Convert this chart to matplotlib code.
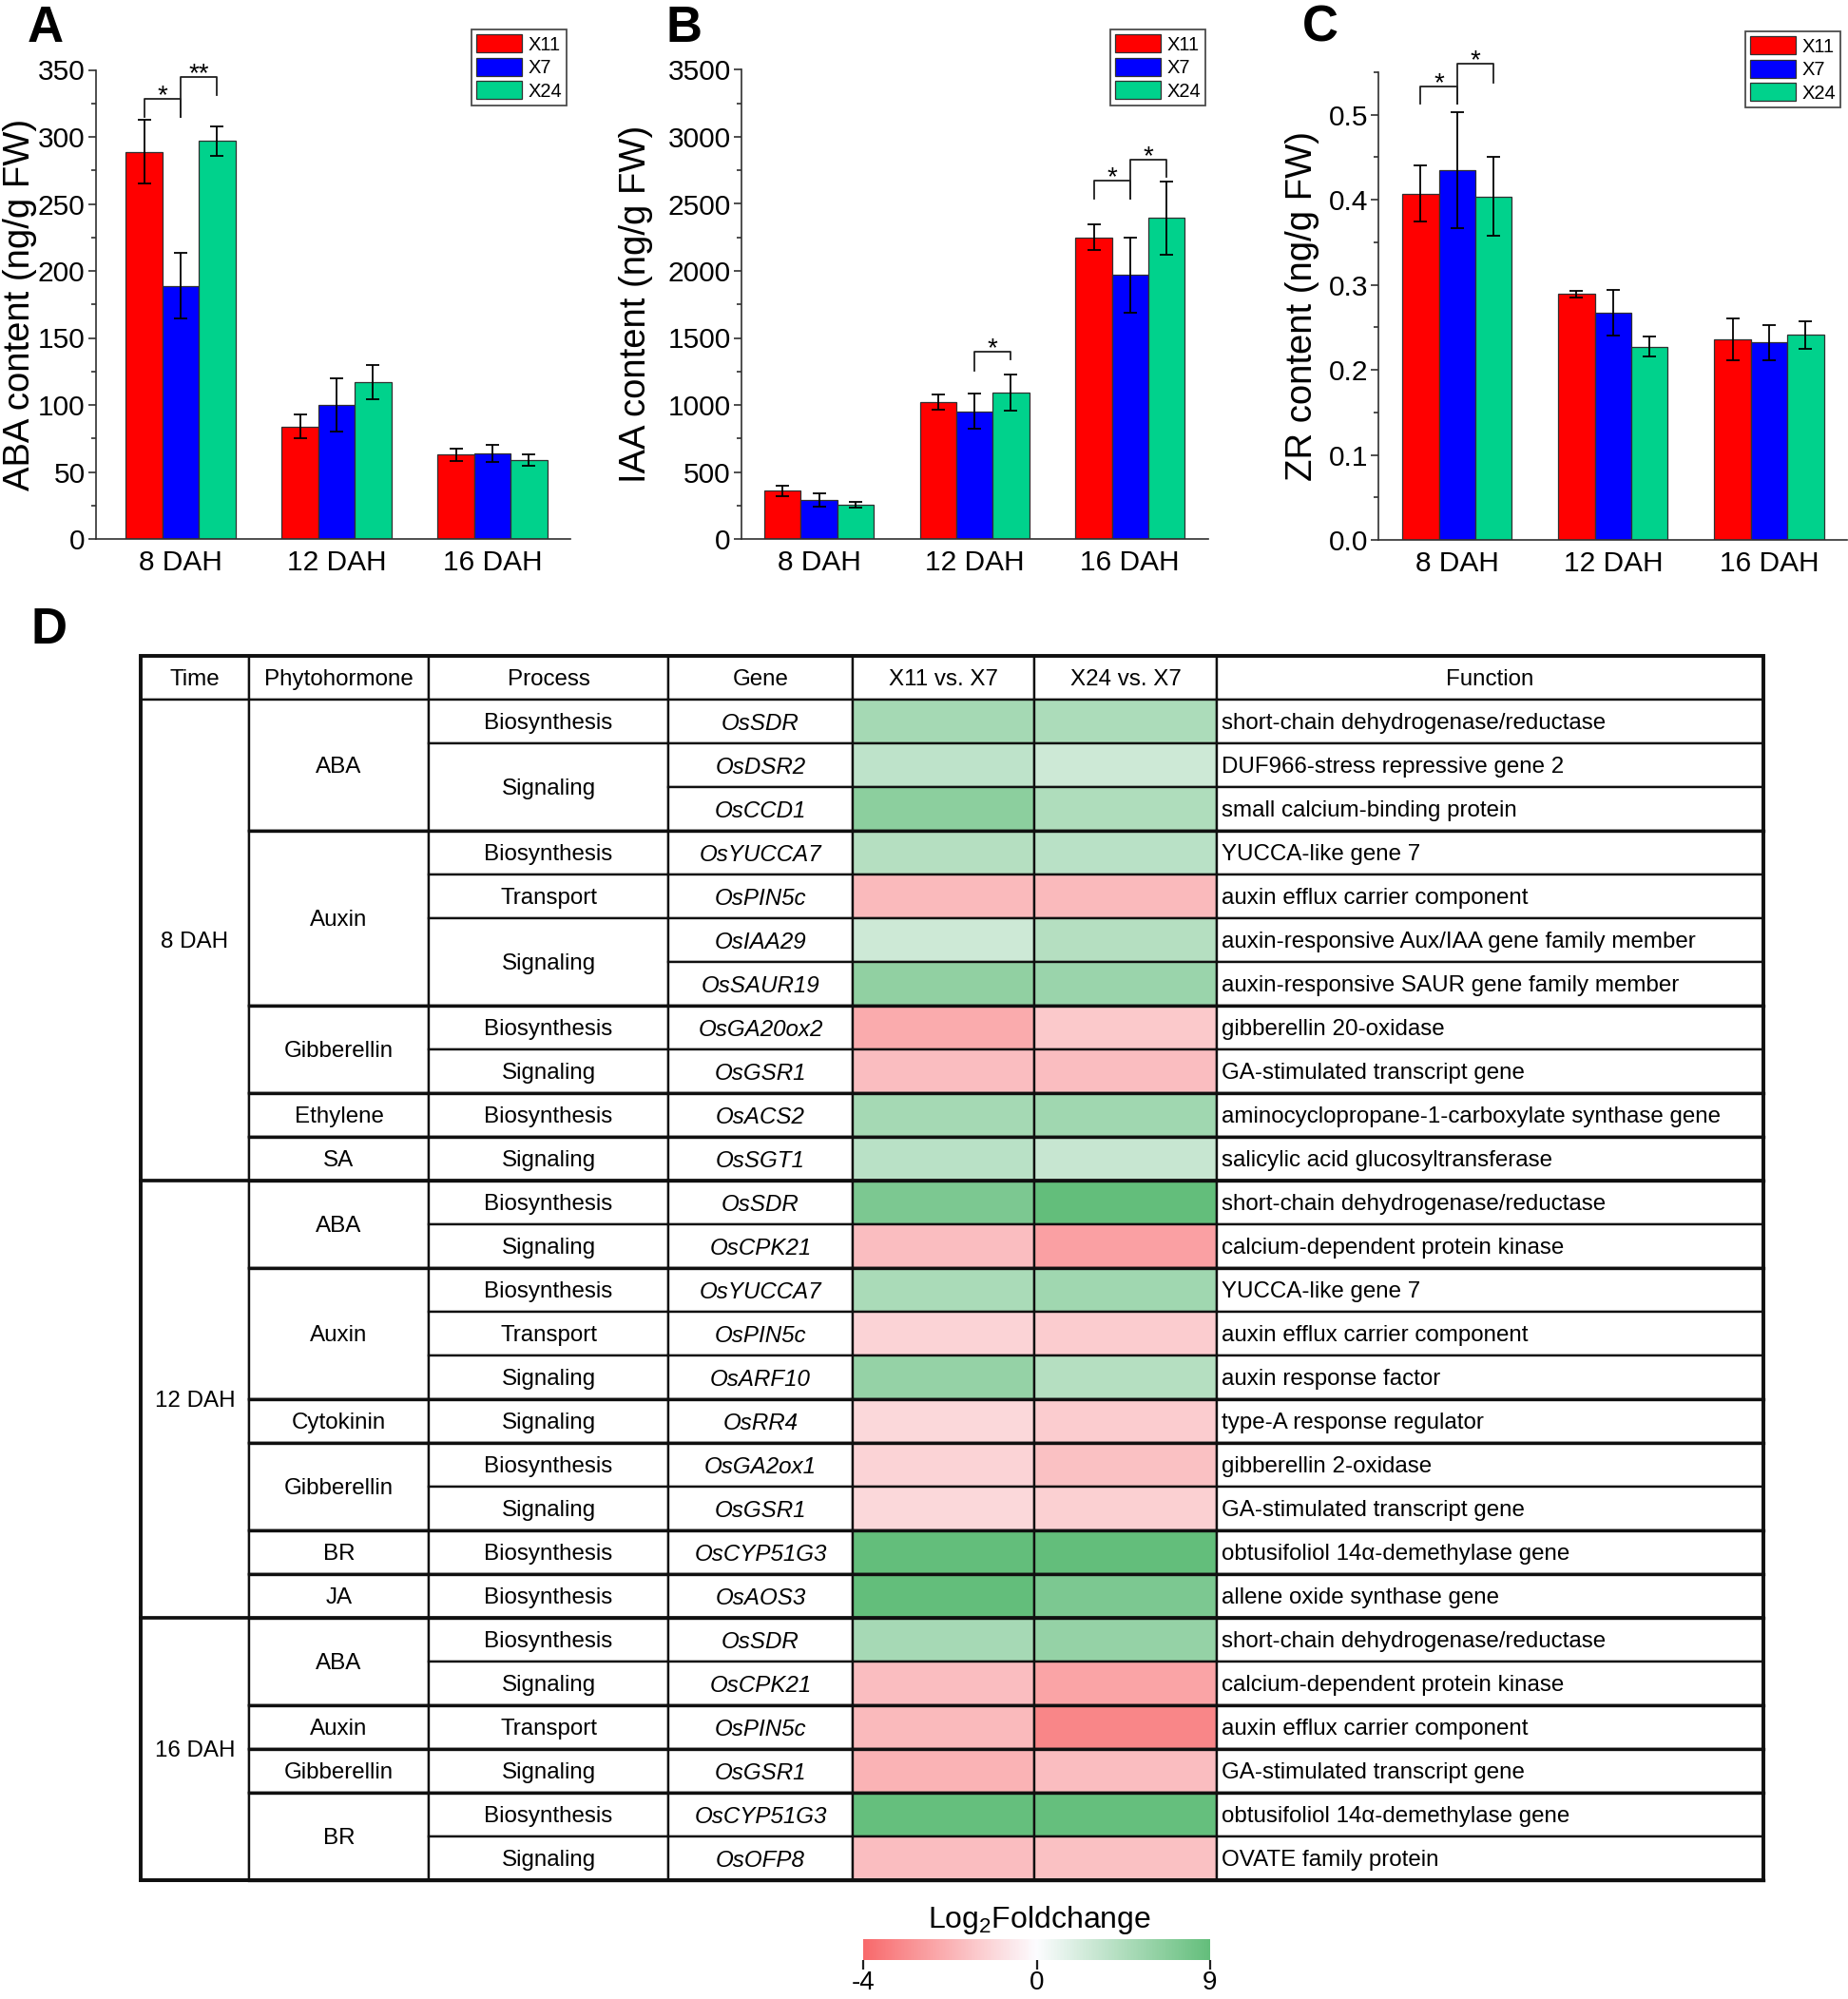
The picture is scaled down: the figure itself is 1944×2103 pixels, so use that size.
import numpy as np
import matplotlib
matplotlib.use('Agg')
import matplotlib.pyplot as plt
from matplotlib.patches import Rectangle
from matplotlib.colors import LinearSegmentedColormap, TwoSlopeNorm
from matplotlib.cm import ScalarMappable
from matplotlib.ticker import MultipleLocator, FormatStrFormatter

plt.rcParams['font.family'] = ['Liberation Sans', 'DejaVu Sans']
plt.rcParams['mathtext.fontset'] = 'custom'
plt.rcParams['mathtext.rm'] = 'Liberation Sans'
plt.rcParams['mathtext.it'] = 'Liberation Sans:italic'
plt.rcParams['axes.unicode_minus'] = False

# ---------------- data: bar panels ----------------
stages = ['8 DAH', '12 DAH', '16 DAH']
lines_names = ['X11', 'X7', 'X24']
bar_colors = ['#FF0000', '#0000FF', '#00D28C']

aba_x11 = [289, 84, 63]
aba_x7 = [189, 100, 64]
aba_x24 = [297, 117, 59]
aba_x11_err = [24, 9, 4.7]
aba_x7_err = [24.5, 19.7, 6.4]
aba_x24_err = [11, 13, 4.4]

iaa_x11 = [359, 1023, 2251]
iaa_x7 = [291, 952, 1969]
iaa_x24 = [254, 1094, 2394]
iaa_x11_err = [37, 58, 93]
iaa_x7_err = [48, 131, 279]
iaa_x24_err = [20, 134, 274]

zr_x11 = [0.407, 0.289, 0.236]
zr_x7 = [0.435, 0.267, 0.232]
zr_x24 = [0.404, 0.227, 0.241]
zr_x11_err = [0.033, 0.0035, 0.0245]
zr_x7_err = [0.068, 0.027, 0.021]
zr_x24_err = [0.046, 0.0117, 0.0162]

# significance brackets: (group, series_a, series_b, top, leg_a, leg_b, text)
aba_sig = [(0, 0, 1, 328.6, 315, 315, '*'), (0, 1, 2, 344.8, 315, 331.4, '**')]
iaa_sig = [(1, 1, 2, 1394, 1257, 1342, '*'), (2, 0, 1, 2676, 2536, 2536, '*'),
           (2, 1, 2, 2833, 2536, 2699, '*')]
zr_sig = [(0, 0, 1, 0.5337, 0.5126, 0.5126, '*'), (0, 1, 2, 0.5597, 0.5126, 0.538, '*')]

# ---------------- data: table ----------------
time_col = ['8 DAH'] * 11 + ['12 DAH'] * 10 + ['16 DAH'] * 6
hormone_col = ['ABA', 'ABA', 'ABA', 'Auxin', 'Auxin', 'Auxin', 'Auxin', 'Gibberellin', 'Gibberellin',
               'Ethylene', 'SA',
               'ABA', 'ABA', 'Auxin', 'Auxin', 'Auxin', 'Cytokinin', 'Gibberellin', 'Gibberellin', 'BR', 'JA',
               'ABA', 'ABA', 'Auxin', 'Gibberellin', 'BR', 'BR']
process_col = ['Biosynthesis', 'Signaling', 'Signaling', 'Biosynthesis', 'Transport', 'Signaling', 'Signaling',
               'Biosynthesis', 'Signaling', 'Biosynthesis', 'Signaling',
               'Biosynthesis', 'Signaling', 'Biosynthesis', 'Transport', 'Signaling', 'Signaling',
               'Biosynthesis', 'Signaling', 'Biosynthesis', 'Biosynthesis',
               'Biosynthesis', 'Signaling', 'Transport', 'Signaling', 'Biosynthesis', 'Signaling']
gene_col = ['OsSDR', 'OsDSR2', 'OsCCD1', 'OsYUCCA7', 'OsPIN5c', 'OsIAA29', 'OsSAUR19', 'OsGA20ox2', 'OsGSR1',
            'OsACS2', 'OsSGT1',
            'OsSDR', 'OsCPK21', 'OsYUCCA7', 'OsPIN5c', 'OsARF10', 'OsRR4', 'OsGA2ox1', 'OsGSR1', 'OsCYP51G3',
            'OsAOS3',
            'OsSDR', 'OsCPK21', 'OsPIN5c', 'OsGSR1', 'OsCYP51G3', 'OsOFP8']
function_col = ['short-chain dehydrogenase/reductase', 'DUF966-stress repressive gene 2',
                'small calcium-binding protein', 'YUCCA-like gene 7', 'auxin efflux carrier component',
                'auxin-responsive Aux/IAA gene family member', 'auxin-responsive SAUR gene family member',
                'gibberellin 20-oxidase', 'GA-stimulated transcript gene',
                'aminocyclopropane-1-carboxylate synthase gene', 'salicylic acid glucosyltransferase',
                'short-chain dehydrogenase/reductase', 'calcium-dependent protein kinase', 'YUCCA-like gene 7',
                'auxin efflux carrier component', 'auxin response factor', 'type-A response regulator',
                'gibberellin 2-oxidase', 'GA-stimulated transcript gene', 'obtusifoliol 14\u03b1-demethylase gene',
                'allene oxide synthase gene',
                'short-chain dehydrogenase/reductase', 'calcium-dependent protein kinase',
                'auxin efflux carrier component', 'GA-stimulated transcript gene',
                'obtusifoliol 14\u03b1-demethylase gene', 'OVATE family protein']
fc_x11 = [5.1, 3.6, 6.6, 4.2, -1.8, 2.8, 6.3, -2.2, -1.7, 5.1, 3.9,
          7.5, -1.7, 4.8, -1.1, 6.0, -1.0, -1.1, -1.0, 9.0, 9.0,
          5.0, -1.7, -1.8, -2.0, 8.8, -1.7]
fc_x24 = [4.7, 2.8, 4.5, 3.9, -1.8, 4.2, 5.7, -1.4, -1.7, 5.4, 3.1,
          9.0, -2.5, 5.4, -1.3, 4.2, -1.3, -1.6, -1.2, 9.0, 7.5,
          6.0, -2.4, -3.2, -1.7, 8.8, -1.6]
header = ['Time', 'Phytohormone', 'Process', 'Gene', 'X11 vs. X7', 'X24 vs. X7', 'Function']
cbar_ticks = [-4, 0, 9]

# ---------------- figure ----------------
W, H = 1944, 2103
fig = plt.figure(figsize=(W / 100, H / 100), dpi=100)


def fx(px):
    return px / W


def fy(py):
    return 1 - py / H


AX_COL = '#303030'


def bar_panel(rect, means, errs, sig, xlim, ylim, major, minor, fmt, ylabel, ylab_x, leg_anchor):
    ax = fig.add_axes(rect)
    w = 0.234
    x = np.arange(len(stages))
    for s in range(3):
        ax.bar(x + (s - 1) * w, means[s], w, yerr=errs[s], color=bar_colors[s],
               edgecolor=AX_COL, linewidth=0.9, label=lines_names[s], zorder=2,
               error_kw=dict(ecolor='black', elinewidth=1.3, capsize=5, capthick=1.3, zorder=3))
    for g, sa, sb, top, la, lb, txt in sig:
        xa = g + (sa - 1) * w
        xb = g + (sb - 1) * w
        ax.plot([xa, xa, xb, xb], [la, top, top, lb], color='#202020', lw=1.3, clip_on=False, zorder=4)
        ax.annotate(txt, xy=((xa + xb) / 2, top), xytext=(0, 2), textcoords='offset points',
                    ha='center', va='center', fontsize=20, annotation_clip=False)
    ax.set_xlim(*xlim)
    ax.set_ylim(*ylim)
    ax.yaxis.set_major_locator(MultipleLocator(major))
    ax.yaxis.set_minor_locator(MultipleLocator(minor))
    ax.yaxis.set_major_formatter(FormatStrFormatter(fmt))
    ax.set_xticks(x)
    ax.set_xticklabels(stages)
    for sp in ['top', 'right']:
        ax.spines[sp].set_visible(False)
    for sp in ['left', 'bottom']:
        ax.spines[sp].set_color(AX_COL)
        ax.spines[sp].set_linewidth(1.2)
    ax.tick_params(axis='y', which='major', direction='out', length=6, width=1.2, color=AX_COL,
                   labelsize=21.5, pad=2)
    ax.tick_params(axis='y', which='minor', direction='out', length=3.5, width=1.2, color=AX_COL)
    ax.tick_params(axis='x', length=0, labelsize=21.5, pad=8)
    ax.set_ylabel(ylabel, fontsize=27.5)
    ax.yaxis.set_label_coords(ylab_x, 0.5)
    leg = ax.legend(loc='upper right', bbox_to_anchor=leg_anchor, bbox_transform=fig.transFigure,
                    fontsize=14.5, frameon=True, fancybox=False, edgecolor='#202020',
                    handlelength=2.4, handleheight=1.1, handletextpad=0.3, labelspacing=0.2,
                    borderpad=0.25, borderaxespad=0)
    leg.get_frame().set_linewidth(1.3)
    return ax


# Panel A
bar_panel([fx(100.7), fy(567), fx(499.3), (567 - 73.5) / H],
          [aba_x11, aba_x7, aba_x24], [aba_x11_err, aba_x7_err, aba_x24_err], aba_sig,
          (-0.544, 2.5), (0, 350), 50, 25, '%d', 'ABA content (ng/g FW)', -0.124,
          (fx(596), fy(31)))
# Panel B
bar_panel([fx(779.8), fy(567), fx(490.8), (567 - 73.5) / H],
          [iaa_x11, iaa_x7, iaa_x24], [iaa_x11_err, iaa_x7_err, iaa_x24_err], iaa_sig,
          (-0.5, 2.5), (0, 3500), 500, 250, '%d', 'IAA content (ng/g FW)', -0.189,
          (fx(1268), fy(31)))
# Panel C
bar_panel([fx(1450), fy(568), fx(493), (568 - 76) / H],
          [zr_x11, zr_x7, zr_x24], [zr_x11_err, zr_x7_err, zr_x24_err], zr_sig,
          (-0.504, 2.5), (0, 0.55), 0.1, 0.05, '%.1f', 'ZR content (ng/g FW)', -0.126,
          (fx(1936), fy(33)))

# Panel letters
for letter, px, py in [('A', 29, 44), ('B', 700, 44), ('C', 1370, 44), ('D', 33, 677)]:
    fig.text(fx(px), fy(py), letter, fontsize=38, fontweight='bold', ha='left', va='baseline')

# ---------------- table D ----------------
col_edges = [148, 262, 451, 703, 897, 1088, 1280, 1855]
tab_top, tab_bot = 690, 1978
n_rows = len(gene_col) + 1
axt = fig.add_axes([fx(col_edges[0]), fy(tab_bot), fx(col_edges[-1] - col_edges[0]), (tab_bot - tab_top) / H])
axt.set_xlim(col_edges[0], col_edges[-1])
axt.set_ylim(n_rows, 0)
axt.axis('off')

cmap = LinearSegmentedColormap.from_list('rwg', [(0, '#F8696B'), (0.5, '#FCFCFF'), (1, '#63BE7B')])
norm = TwoSlopeNorm(vmin=-4, vcenter=0, vmax=9)

TFS = 17.4
LW = 1.7


def cell(c, r0, r1, text=None, fc='white', style='normal', ha='center'):
    x0, x1 = col_edges[c], col_edges[c + 1]
    axt.add_patch(Rectangle((x0, r0), x1 - x0, r1 - r0, facecolor=fc, edgecolor='#101010',
                            linewidth=LW, clip_on=False, zorder=2))
    if text is not None:
        tx = (x0 + x1) / 2 if ha == 'center' else x0 + 5
        axt.text(tx, (r0 + r1) / 2 + 0.05, text, ha=ha, va='center', fontsize=TFS, style=style,
                 zorder=3, clip_on=False)


def spans(keys):
    out = []
    start = 0
    for i in range(1, len(keys) + 1):
        if i == len(keys) or keys[i] != keys[start]:
            out.append((start, i))
            start = i
    return out


for c, h in enumerate(header):
    cell(c, 0, 1, h)

for s, e in spans(time_col):
    cell(0, s + 1, e + 1, time_col[s])
for s, e in spans(list(zip(time_col, hormone_col))):
    cell(1, s + 1, e + 1, hormone_col[s])
for s, e in spans(list(zip(time_col, hormone_col, process_col))):
    cell(2, s + 1, e + 1, process_col[s])
for i in range(len(gene_col)):
    cell(3, i + 1, i + 2, gene_col[i], style='italic')
    cell(4, i + 1, i + 2, None, fc=cmap(norm(fc_x11[i])))
    cell(5, i + 1, i + 2, None, fc=cmap(norm(fc_x24[i])))
    cell(6, i + 1, i + 2, function_col[i], ha='left')

# thicker group separators and outer frame
for s, e in spans(list(zip(time_col, hormone_col))):
    axt.plot([col_edges[1], col_edges[-1]], [e + 1, e + 1], color='#101010', lw=2.4,
             clip_on=False, zorder=4)
for s, e in spans(time_col):
    axt.plot([col_edges[0], col_edges[-1]], [e + 1, e + 1], color='#101010', lw=2.6,
             clip_on=False, zorder=4)
axt.add_patch(Rectangle((col_edges[0], 0), col_edges[-1] - col_edges[0], n_rows, fill=False,
                        edgecolor='#101010', linewidth=2.8, clip_on=False, zorder=5))

# ---------------- colorbar ----------------
cax = fig.add_axes([fx(908), fy(2062), fx(365), 22 / H])
cb = fig.colorbar(ScalarMappable(norm=norm, cmap=cmap), cax=cax, orientation='horizontal',
                  ticks=cbar_ticks)
cb.outline.set_visible(False)
cax.tick_params(length=7, width=1.6, labelsize=20, direction='out', pad=1, color='#202020')
fig.text(fx(1093), fy(2020), r'Log$_2$Foldchange', ha='center', va='center', fontsize=23)

fig.savefig('out.png', dpi=100, facecolor='white')
